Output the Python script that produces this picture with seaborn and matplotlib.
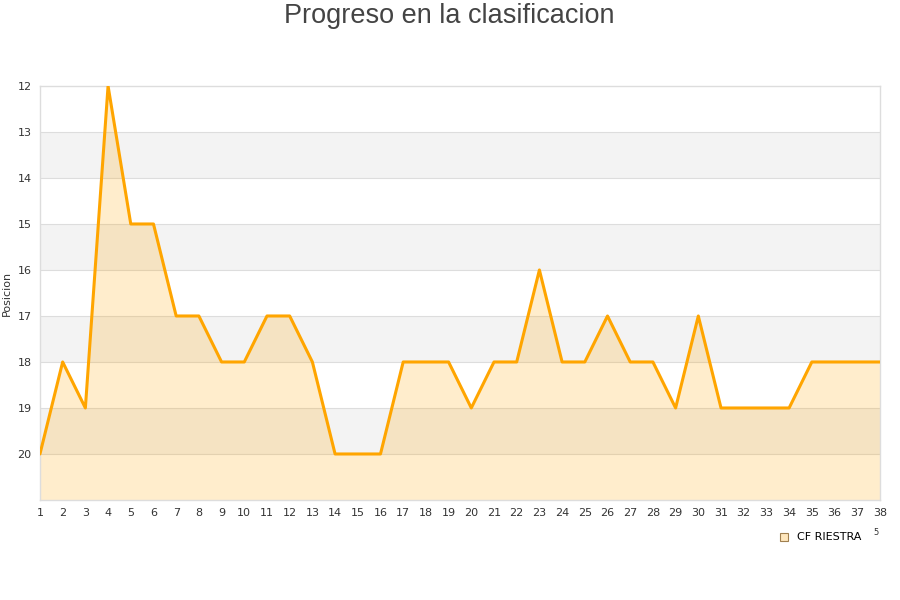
import matplotlib
matplotlib.use("Agg")
import matplotlib.pyplot as plt
import seaborn as sns
import pandas as pd

jornadas = list(range(1, 39))
posiciones = [20, 18, 19, 12, 15, 15, 17, 17, 18, 18, 17, 17, 18, 20, 20, 20,
              18, 18, 18, 19, 18, 18, 16, 18, 18, 17, 18, 18, 19, 17, 19, 19,
              19, 19, 18, 18, 18, 18]
equipo = "CF RIESTRA"
titulo = "Progreso en la clasificacion"
ylabel = "Posicion"
yticks = list(range(12, 21))

df = pd.DataFrame({"Jornada": jornadas, "Posicion": posiciones})

sns.set_theme(style="white")
plt.rcParams['font.family'] = ['DejaVu Sans']

fig = plt.figure(figsize=(9, 6), dpi=100)
ax = fig.add_axes([0.0444, 0.1667, 0.9333, 0.69])

# alternating bands
for lo in range(12, 21):
    if lo % 2 == 1:
        ax.axhspan(lo, lo + 1, color="#f3f3f3", zorder=0, lw=0)
for y in range(13, 21):
    ax.axhline(y, color="#dddddd", lw=0.8, zorder=0.5)

ax.fill_between(df["Jornada"], df["Posicion"], 21, color="#ffa500", alpha=0.2,
                zorder=1, lw=0)
sns.lineplot(data=df, x="Jornada", y="Posicion", ax=ax, color="#ffa500",
             lw=2.2, zorder=3)

ax.set_xlim(1, 38)
ax.set_ylim(21, 12)
ax.set_xticks(jornadas)
ax.set_yticks(yticks)
ax.tick_params(axis="both", labelsize=8, colors="#333333", length=0, pad=6)
ax.set_xlabel("")
ax.set_ylabel(ylabel, fontsize=8, color="#333333", labelpad=4)
for s in ax.spines.values():
    s.set_color("#dddddd")
    s.set_linewidth(1)

fig.text(0.499, 0.973, titulo, ha="center", va="center", fontsize=19.5,
         color="#444444", family=["Liberation Sans", "DejaVu Sans"])

# legend
fig.patches.append(plt.Rectangle((0.8665, 0.0985), 0.0085, 0.0125,
                                 transform=fig.transFigure, facecolor="#ffe7bd",
                                 edgecolor="#a08050", lw=0.8, figure=fig))
fig.text(0.886, 0.105, equipo, ha="left", va="center", fontsize=8, color="#000000")
fig.text(0.973, 0.113, "5", ha="center", va="center", fontsize=6, color="#333333")

fig.savefig("out.png", dpi=100)
